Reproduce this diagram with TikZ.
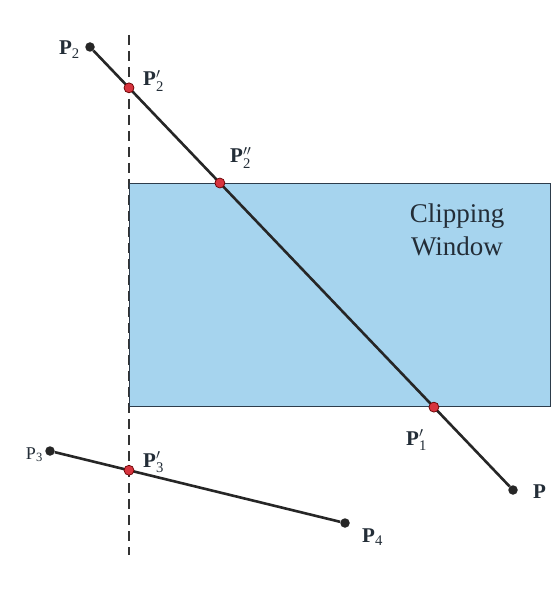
\documentclass[tikz,border=0pt]{standalone}
\usepackage{fontspec}
\usepackage{amsmath}
\setmainfont{Liberation Serif}
\definecolor{winblue}{RGB}{166,212,238}
\definecolor{winedge}{RGB}{45,60,75}
\definecolor{ptred}{RGB}{215,52,62}
\definecolor{txt}{RGB}{35,45,55}
\begin{document}
\begin{tikzpicture}[x=1pt,y=-1pt,
  seg/.style={line width=2.6pt,black!85},
  endpt/.style={circle,fill=black!85,inner sep=0,minimum size=9.5pt},
  cutpt/.style={circle,fill=ptred,draw=red!40!black,line width=0.7pt,inner sep=0,minimum size=10pt},
  lab/.style={inner sep=0,text=txt,font=\fontsize{21}{21}\selectfont,anchor=base west},
  labs/.style={inner sep=0,text=txt,font=\fontsize{18}{18}\selectfont,anchor=base west},
  clipline/.style={line width=1.1pt,black!80,dash pattern=on 10pt off 6pt}]
\useasboundingbox[fill=white] (0,0) rectangle (554,593);
% dashed boundary
\coordinate (dtop) at (129,35);
\coordinate (dbot) at (129,555);
\draw[clipline] (dtop) -- (dbot);
% clipping window
\node[draw=winedge,line width=1.1pt,fill=winblue,inner sep=0,anchor=north west,
  minimum width=421pt,minimum height=223pt] (win) at (129,183) {};
\node[text=txt,font=\fontsize{27}{33}\selectfont,align=center] (wlab) at (457,230) {Clipping\\Window};
% line 1
\node[endpt] (P2) at (90,47) {};
\node[endpt] (P1) at (513,490) {};
\draw[seg] (P2) -- (P1);
\node[cutpt] (P2a) at (intersection of P2--P1 and dtop--dbot) {};
\node[cutpt] (P2b) at (intersection of P2--P1 and win.north west--win.north east) {};
\node[cutpt] (P1a) at (intersection of P2--P1 and win.south west--win.south east) {};
% line 2
\node[endpt] (P3) at (50,451) {};
\node[endpt] (P4) at (345,523) {};
\draw[seg] (P3) -- (P4);
\node[cutpt] (P3a) at (intersection of P3--P4 and dtop--dbot) {};
% labels
\node[lab,anchor=base east] (lP2) at (80,55) {\textbf{P}$_{\text{2}}$};
\node[lab] (lP2a) at (143,86) {\textbf{P}$'_{\text{2}}$};
\node[lab] (lP2b) at (230,163) {\textbf{P}$''_{\text{2}}$};
\node[lab] (lP1a) at (406,445) {\textbf{P}$'_{\text{1}}$};
\node[lab] (lP1) at (533,498) {\textbf{P}};
\node[labs,anchor=base east] (lP3) at (43,459) {P$_{\text{3}}$};
\node[lab] (lP3a) at (143,467) {\textbf{P}$'_{\text{3}}$};
\node[lab] (lP4) at (362,542) {\textbf{P}$_{\text{4}}$};
\end{tikzpicture}
\end{document}
